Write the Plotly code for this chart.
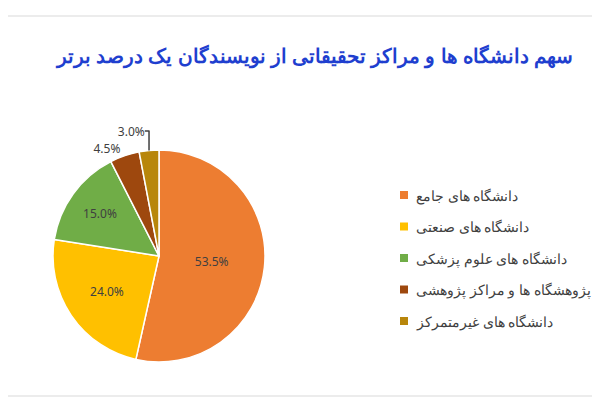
import plotly.graph_objects as go

labels = ["دانشگاه های جامع", "دانشگاه های صنعتی", "دانشگاه های علوم پزشکی", "پژوهشگاه ها و مراکز پژوهشی", "دانشگاه های غیرمتمرکز"]
values = [53.5, 24.0, 15.0, 4.5, 3.0]
colors = ["#ED7D31", "#FFC000", "#70AD47", "#9E480E", "#B8860B"]

fig = go.Figure(go.Pie(
    labels=labels, values=values, sort=False, direction="clockwise", rotation=0,
    marker=dict(colors=colors, line=dict(color="white", width=1.5)),
    texttemplate=["%{value:.1f}%"]*5, textposition=["inside","inside","inside","outside","outside"],
    textfont=dict(family="Noto Sans", size=12, color="#404040"),
    domain=dict(x=[45/600, 257/600], y=[1-354/400, 1-142/400]),
    showlegend=False, hoverinfo="skip",
))
shapes = [dict(type="line", xref="paper", yref="paper", x0=0, x1=1, y0=1-8/400, y1=1-8/400, line=dict(color="#D9D9D9", width=1)),
          dict(type="line", xref="paper", yref="paper", x0=0, x1=1, y0=1-388/400, y1=1-388/400, line=dict(color="#D9D9D9", width=1))]
annotations = []
for i, (lab, col) in enumerate(zip(labels, colors)):
    yc = 187 + i * 31.5
    shapes.append(dict(type="rect", xref="paper", yref="paper", x0=392/600, x1=400/600,
                       y0=1-(yc+4)/400, y1=1-(yc-4)/400, fillcolor=col, line=dict(width=0)))
    annotations.append(dict(text=lab, xref="paper", yref="paper", x=406/600, y=1-yc/400,
                            xanchor="left", yanchor="middle", showarrow=False,
                            font=dict(family="Noto Sans", size=14, color="#404040")))
fig.update_layout(
    width=600, height=400, margin=dict(l=0, r=0, t=0, b=0),
    paper_bgcolor="white", plot_bgcolor="white",
    title=dict(text="<b>سهم دانشگاه ها و مراکز تحقیقاتی از نویسندگان یک درصد برتر</b>",
               x=565/600, xanchor="right", y=1-48/400, yanchor="middle",
               font=dict(family="Noto Sans", size=20, color="#1F3FCF")),
    shapes=shapes, annotations=annotations,
)
fig.write_html("out.html")
